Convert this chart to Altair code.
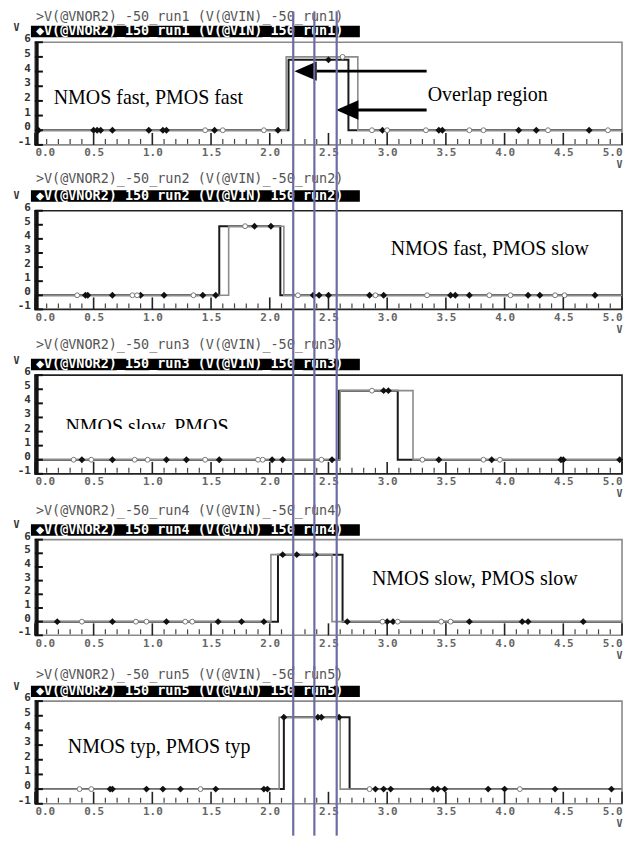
import altair as alt
import pandas as pd

# ------------------------------------------------------------------ data
RUNS = ["run1", "run2", "run3", "run4", "run5"]
TITLE_A = [">V(@VNOR2)_-50_%s (V(@VIN)_-50_%s)" % (r, r) for r in RUNS]
TITLE_B = ["\u25c6V(@VNOR2)_150_%s (V(@VIN)_150_%s)" % (r, r) for r in RUNS]

CAPTIONS = ["NMOS fast, PMOS fast", "NMOS fast, PMOS slow", "NMOS slow, PMOS",
            "NMOS slow, PMOS slow", "NMOS typ, PMOS typ"]
CAPTION_X = [0.16, 3.03, 0.26, 2.87, 0.28]
CAPTION_Y = [2.19, 3.25, 1.9, 3.1, 2.87]
CAPTION_BASELINE = ["middle", "middle", "alphabetic", "middle", "middle"]

X_LABEL_VALUES = [0.0, 0.5, 1.0, 1.5, 2.0, 2.5, 3.0, 3.5, 4.0, 4.5, 5.0]
Y_LABEL_VALUES = [-1, 0, 1, 2, 3, 4, 5, 6]
Y_LABEL_TEXT = ["-1", "0", "1", "2", "3", "4", "5", "6"]
X_MINOR_TICKS = [i / 10 for i in range(51) if i % 5]

# pulse edges of the two traces in each run (x in V, y in V)
A_RISE = [2.14, 1.65, 2.60, 2.01, 2.08]
A_FALL = [2.75, 2.12, 3.22, 2.53, 2.60]
A_HIGH = [5.0, 4.9, 4.9, 4.9, 4.9]
B_RISE = [2.16, 1.57, 2.59, 2.07, 2.12]
B_FALL = [2.67, 2.09, 3.09, 2.62, 2.68]
B_HIGH = [4.8, 4.9, 4.9, 4.9, 4.9]

# simulation point markers (filled = trace B, open = trace A)
B_MARK_X = [
    [0.03, 0.50, 0.53, 0.56, 0.66, 0.97, 1.09, 1.12, 1.53, 2.07, 2.50, 2.96, 3.44, 3.47, 4.12, 4.27, 4.72],
    [0.43, 0.45, 0.66, 0.90, 1.10, 1.43, 1.54, 1.87, 2.01, 2.37, 2.42, 2.50, 2.85, 2.97, 3.54, 3.58, 3.70, 4.20, 4.30, 4.77],
    [0.40, 0.66, 1.12, 1.29, 1.57, 2.02, 2.11, 2.53, 2.97, 3.01, 3.44, 3.89, 4.48, 4.50, 4.98],
    [0.19, 0.66, 1.12, 1.56, 1.76, 1.95, 2.11, 2.23, 2.39, 2.66, 3.00, 3.05, 3.70, 4.15, 4.20, 4.67],
    [0.64, 0.66, 0.95, 1.09, 1.24, 1.54, 1.95, 1.98, 2.12, 2.41, 2.44, 2.59, 2.90, 2.97, 3.03, 3.39, 3.43, 3.49, 3.86, 4.00, 4.43, 4.91],
]
B_MARK_Y = [
    [0, 0, 0, 0, 0, 0, 0, 0, 0, 0, 4.8, 0, 0, 0, 0, 0, 0],
    [0, 0, 0, 0, 0, 0, 0, 4.9, 4.9, 0, 0, 0, 0, 0, 0, 0, 0, 0, 0, 0],
    [0, 0, 0, 0, 0, 0, 0, 0, 4.9, 4.9, 0, 0, 0, 0, 0],
    [0, 0, 0, 0, 0, 0, 4.9, 4.9, 4.9, 0, 0, 0, 0, 0, 0, 0],
    [0, 0, 0, 0, 0, 0, 0, 0, 4.9, 4.9, 4.9, 4.9, 0, 0, 0, 0, 0, 0, 0, 0, 0, 0],
]
A_MARK_X = [
    [1.45, 1.60, 1.95, 2.62, 2.87, 3.00, 3.33, 3.70, 3.82, 4.37, 4.88],
    [0.36, 0.83, 0.87, 1.35, 1.79, 2.24, 2.90, 3.34, 3.87, 4.05, 4.43, 4.51],
    [0.33, 0.48, 0.85, 0.96, 1.45, 1.90, 1.94, 2.44, 2.87, 3.30, 3.82, 3.96],
    [0.40, 0.86, 0.95, 1.28, 1.34, 2.96, 3.09, 3.46, 3.54],
    [0.38, 0.48, 1.41, 2.85, 4.13],
]
A_MARK_Y = [
    [0, 0, 0, 5.0, 0, 0, 0, 0, 0, 0, 0],
    [0, 0, 0, 0, 4.9, 0, 0, 0, 0, 0, 0, 0],
    [0, 0, 0, 0, 0, 0, 0, 0, 4.9, 0, 0, 0],
    [0, 0, 0, 0, 0, 0, 0, 0, 0],
    [0, 0, 0, 0, 0],
]

# vertical reference lines (V)
REF_LINES = [2.20, 2.38, 2.57]

# annotation in the first panel
OVERLAP_TEXT = "Overlap region"
OVERLAP_X, OVERLAP_Y = 3.345, 2.4
ARROW_TIP_CENTER = [2.305, 2.66]
ARROW_BASE = [2.40, 2.75]
ARROW_END = [3.336, 3.336]
ARROW_Y = [4.03, 1.38]

# ------------------------------------------------------------------ layout
W = 589
HEIGHTS = [103, 99, 99, 96, 103]
SPACING = 66
T1_BASE = [-21, -28, -26, -25, -22]
T2_MID = [-11, -15, -11, -10, -10]
VIEW_STROKE = ["#8a8a8a", "#222222", "#222222", "#8a8a8a", "#8a8a8a"]
MONO = "DejaVu Sans Mono"
SERIF = "Liberation Serif"
BLUE = "#6b6ba6"

xs = alt.Scale(domain=[0, 5], nice=False, zero=False)
ys = alt.Scale(domain=[-1, 6], nice=False, zero=False)


def X(f):
    return alt.X(f, scale=xs)


def Y(f):
    return alt.Y(f, scale=ys)


def panel(i):
    h = HEIGHTS[i]
    x_axis = alt.Axis(values=X_LABEL_VALUES, format=".1f", labelFlush=True, ticks=False,
                      domain=False, grid=False, labelFont=MONO, labelFontSize=11,
                      labelFontWeight="bold", labelColor="#666", labelPadding=2,
                      labelOverlap=False,
                      title="V", titleX=W - 3, titleY=20, titleAngle=0, titleAlign="center",
                      titleBaseline="middle", titleFont=MONO, titleFontSize=10,
                      titleFontWeight="bold", titleColor="#555")
    y_axis = alt.Axis(values=Y_LABEL_VALUES, labels=False, ticks=False, domain=False, grid=False,
                      title="V", titleAngle=0, titleX=-19, titleY=-15, titleAlign="center",
                      titleBaseline="middle", titleFont=MONO, titleFontSize=10,
                      titleFontWeight="bold", titleColor="#333")

    b_line = pd.DataFrame({
        "x": [0.0, B_RISE[i], B_RISE[i], B_FALL[i], B_FALL[i], 5.0],
        "y": [0.0, 0.0, B_HIGH[i], B_HIGH[i], 0.0, 0.0],
        "o": list(range(6)),
    })
    a_line = pd.DataFrame({
        "x": [0.0, A_RISE[i], A_RISE[i], A_FALL[i], A_FALL[i], 5.0],
        "y": [0.0, 0.0, A_HIGH[i], A_HIGH[i], 0.0, 0.0],
        "o": list(range(6)),
    })
    layers = []
    layers.append(alt.Chart(b_line).mark_line(color="#1a1a1a", strokeWidth=2.0).encode(
        x=alt.X("x:Q", scale=xs, axis=x_axis), y=alt.Y("y:Q", scale=ys, axis=y_axis),
        order="o:Q"))
    layers.append(alt.Chart(a_line).mark_line(color="#8c8c8c", strokeWidth=1.6).encode(
        x=X("x:Q"), y=Y("y:Q"), order="o:Q"))
    layers.append(alt.Chart(pd.DataFrame({"x": B_MARK_X[i], "y": B_MARK_Y[i]})).mark_point(
        shape="diamond", filled=True, size=48, color="#111", opacity=1).encode(
        x=X("x:Q"), y=Y("y:Q")))
    layers.append(alt.Chart(pd.DataFrame({"x": A_MARK_X[i], "y": A_MARK_Y[i]})).mark_point(
        shape="circle", filled=True, size=24, fill="white", stroke="#777", strokeWidth=1,
        opacity=1).encode(x=X("x:Q"), y=Y("y:Q")))
    # inner ticks
    layers.append(alt.Chart(pd.DataFrame({"x": X_MINOR_TICKS})).mark_rule(
        color="#444", strokeWidth=1.2).encode(x=X("x:Q"), y=alt.value(h - 6), y2=alt.value(h - 1)))
    layers.append(alt.Chart(pd.DataFrame({"x": X_LABEL_VALUES})).mark_rule(
        color="#222", strokeWidth=1.6).encode(x=X("x:Q"), y=alt.value(h - 12), y2=alt.value(h)))
    layers.append(alt.Chart(pd.DataFrame({"k": [0]})).mark_rule(
        color="#111", strokeWidth=3.5).encode(x=alt.value(2), y=alt.value(0), y2=alt.value(h)))
    layers.append(alt.Chart(pd.DataFrame({"y": Y_LABEL_VALUES})).mark_rule(
        color="#111", strokeWidth=2).encode(y=Y("y:Q"), x=alt.value(0), x2=alt.value(8)))
    # y tick labels
    layers.append(alt.Chart(pd.DataFrame({"y": Y_LABEL_VALUES, "t": Y_LABEL_TEXT})).mark_text(
        font=MONO, fontSize=11, fontWeight="bold", color="#333", align="right",
        baseline="middle", dy=-3).encode(y=Y("y:Q"), x=alt.value(-4), text="t:N"))
    # caption
    layers.append(alt.Chart(pd.DataFrame({"x": [CAPTION_X[i]], "y": [CAPTION_Y[i]],
                                          "t": [CAPTIONS[i]]})).mark_text(
        font=SERIF, fontSize=20, align="left", baseline=CAPTION_BASELINE[i], color="black").encode(
        x=X("x:Q"), y=Y("y:Q"), text="t:N"))
    if i == 2:
        layers.append(alt.Chart(pd.DataFrame({"x1": [0.12], "x2": [1.95], "y1": [2.18], "y2": [0.55]})
                      ).mark_rect(color="white", opacity=1).encode(
            x=X("x1:Q"), x2="x2:Q", y=Y("y1:Q"), y2="y2:Q"))
    if i == 0:
        arr = pd.DataFrame({"xc": ARROW_TIP_CENTER, "xb": ARROW_BASE, "xe": ARROW_END, "y": ARROW_Y})
        layers.append(alt.Chart(arr).mark_rule(color="black", strokeWidth=3).encode(
            x=X("xb:Q"), x2="xe:Q", y=Y("y:Q")))
        layers.append(alt.Chart(arr).mark_point(
            shape="M-1,0L1,-0.87L1,0.87Z", filled=True, size=500, color="black", opacity=1).encode(
            x=X("xc:Q"), y=Y("y:Q")))
        layers.append(alt.Chart(pd.DataFrame({"x": [OVERLAP_X], "y": [OVERLAP_Y], "t": [OVERLAP_TEXT]})
                      ).mark_text(font=SERIF, fontSize=20, align="left", baseline="middle",
                                  color="black").encode(x=X("x:Q"), y=Y("y:Q"), text="t:N"))
    # titles above the panel
    layers.append(alt.Chart(pd.DataFrame({"k": [0]})).mark_rect(color="black").encode(
        x=alt.value(-4), x2=alt.value(326), y=alt.value(T2_MID[i] - 5.5), y2=alt.value(T2_MID[i] + 6)))
    layers.append(alt.Chart(pd.DataFrame({"t": [TITLE_B[i]]})).mark_text(
        font=MONO, fontSize=13.5, fontWeight="bold", align="left", baseline="middle",
        color="white").encode(x=alt.value(1), y=alt.value(T2_MID[i]), text="t:N"))
    layers.append(alt.Chart(pd.DataFrame({"t": [TITLE_A[i]]})).mark_text(
        font=MONO, fontSize=13.5, align="left", baseline="alphabetic",
        color="#555").encode(x=alt.value(1), y=alt.value(T1_BASE[i]), text="t:N"))
    # vertical reference lines
    top = -31 if i == 0 else -35
    bottom = h + 32 if i == 4 else h + 35
    layers.append(alt.Chart(pd.DataFrame({"x": REF_LINES})).mark_rule(
        color=BLUE, strokeWidth=2.2).encode(x=X("x:Q"), y=alt.value(top), y2=alt.value(bottom)))

    return alt.layer(*layers).properties(
        width=W, height=h,
        view=alt.ViewBackground(stroke=VIEW_STROKE[i], strokeWidth=1.6))


chart = alt.VConcatChart(
    vconcat=[panel(i) for i in range(5)], spacing=SPACING, bounds="flush"
).properties(
    padding={"left": 4, "top": 0, "right": 0, "bottom": 0}, background="white"
)

chart.save("out.html", embed_options={"renderer": "svg", "actions": False})
